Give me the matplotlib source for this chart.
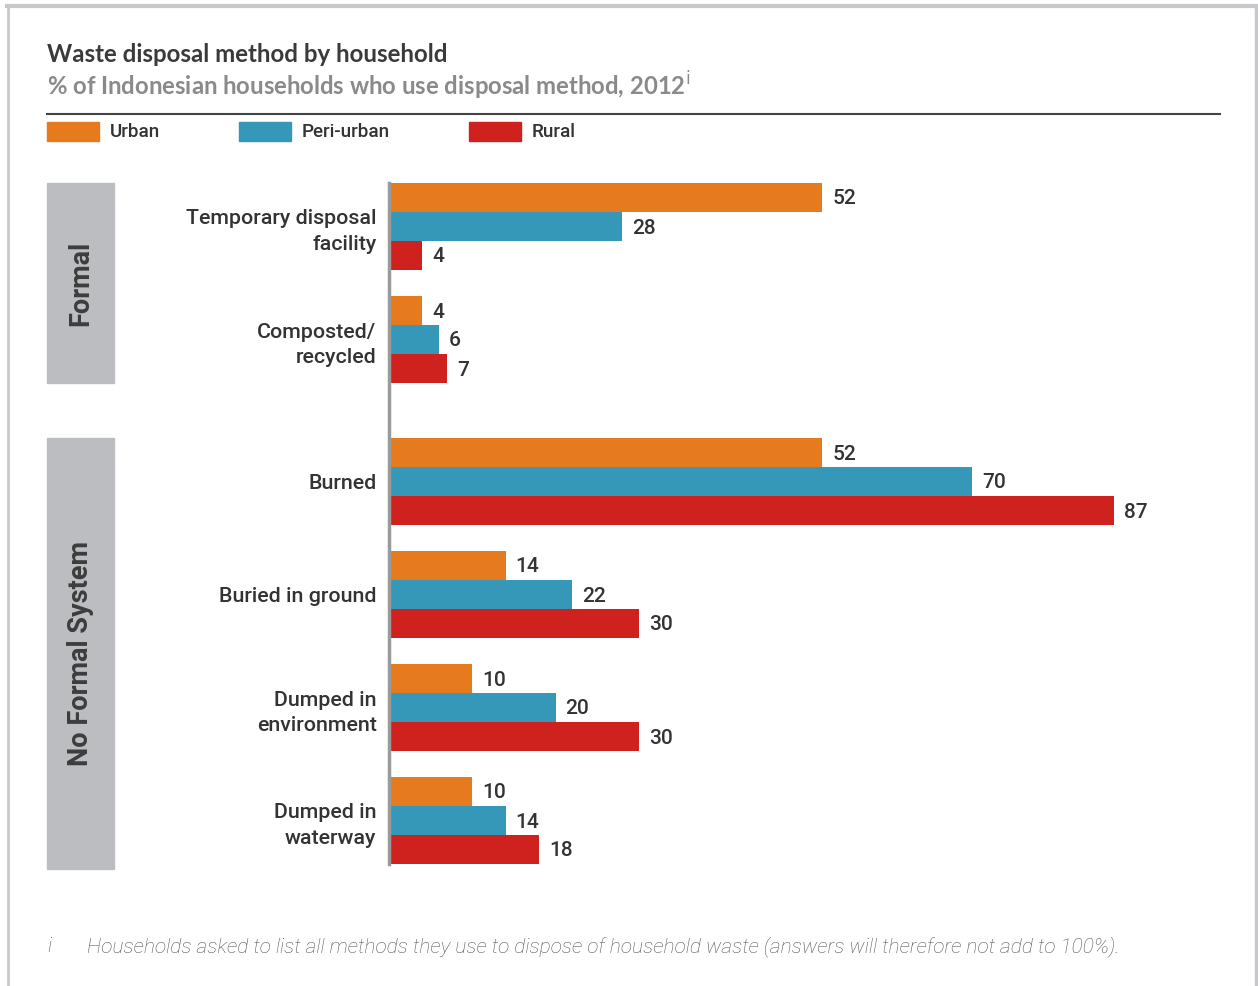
import matplotlib.pyplot as plt
from matplotlib.patches import Rectangle
from matplotlib.lines import Line2D

plt.rcParams['font.family'] = ['Roboto', 'DejaVu Sans']

categories = ['Temporary disposal\nfacility', 'Composted/\nrecycled', 'Burned',
              'Buried in ground', 'Dumped in\nenvironment', 'Dumped in\nwaterway']
series = ['Urban', 'Peri-urban', 'Rural']
urban = [52, 4, 52, 14, 10, 10]
peri_urban = [28, 6, 70, 22, 20, 14]
rural = [4, 7, 87, 30, 30, 18]
sections = ['Formal', 'No Formal System']
section_sizes = [2, 4]

colors = ['#e57b1e', '#3598b8', '#cf221f']
W, H = 1258, 986
fig = plt.figure(figsize=(W / 100, H / 100), dpi=100)

def fx(px):
    return px / W

def fy(py):
    return 1 - py / H

# axes placed in pixel terms
ax_l, ax_r, ax_t, ax_b = 389, 1222, 183, 864
ax = fig.add_axes([fx(ax_l), fy(ax_b), fx(ax_r - ax_l), fy(ax_t) - fy(ax_b)])

bar_h = 29
pitch = 113
gap = 29
values = [urban, peri_urban, rural]
starts = []
for i in range(len(categories)):
    extra = gap if i >= section_sizes[0] else 0
    starts.append(i * pitch + extra)

for k, (name, vals) in enumerate(zip(series, values)):
    ys = [s + k * bar_h for s in starts]
    ax.barh(ys, vals, height=bar_h, align='edge', color=colors[k], label=name)
    for y, v in zip(ys, vals):
        ax.text(v + 1.2, y + bar_h / 2 + 1.5, str(v), va='center', ha='left',
                fontsize=15, fontweight='medium', color='#333333')

ax.set_xlim(0, 100)
ax.set_ylim(ax_b - ax_t, 0)
for s in ['top', 'right', 'bottom']:
    ax.spines[s].set_visible(False)
ax.spines['left'].set_color('#9a9a9a')
ax.spines['left'].set_linewidth(2.5)
ax.set_xticks([])
ax.set_yticks([s + 1.5 * bar_h for s in starts])
ax.set_yticklabels(categories, fontsize=15.4, fontweight='medium', color='#333333',
                   linespacing=1.45)
ax.tick_params(axis='y', length=0, pad=9)

# section boxes
box_spans = [(183, 383), (438, 869)]
for name, (t, b) in zip(sections, box_spans):
    fig.patches.append(Rectangle((fx(47), fy(b)), fx(114 - 47), fy(t) - fy(b),
                                 transform=fig.transFigure, color='#bcbdc1'))
    fig.text(fx(81), (fy(t) + fy(b)) / 2, name, rotation=90, ha='center', va='center',
             fontsize=19.5, fontweight='bold', color='#3d3d3d')

# titles
fig.text(fx(47), fy(54), 'Waste disposal method by household', ha='left', va='center',
         fontsize=17.3, color='#3a3a3a', fontweight='bold', family=['Lato', 'DejaVu Sans'])
fig.text(fx(47), fy(86), '% of Indonesian households who use disposal method, 2012$^{\\mathrm{i}}$',
         ha='left', va='center', fontsize=17.2, color='#8a8a8a', fontweight='bold',
         family=['Lato', 'DejaVu Sans'])
fig.lines.append(Line2D([fx(47), fx(1220)], [fy(114), fy(114)], transform=fig.transFigure,
                        color='#444444', linewidth=1.5))

# legend
legend_x = [47, 239, 469]
for k, name in enumerate(series):
    x0 = legend_x[k]
    fig.patches.append(Rectangle((fx(x0), fy(141)), fx(52), fy(122) - fy(141),
                                 transform=fig.transFigure, color=colors[k]))
    fig.text(fx(x0 + 63), fy(132), name, ha='left', va='center', fontsize=13.6,
             color='#333333', fontweight='medium')

# footnote
fig.text(fx(47), fy(947), 'i', ha='left', va='center', fontsize=15, style='italic',
         fontweight='light', color='#555555')
fig.text(fx(87), fy(947), 'Households asked to list all methods they use to dispose of household '
         'waste (answers will therefore not add to 100%).', ha='left', va='center',
         fontsize=15, style='italic', fontweight='light', color='#555555')

# page frame
frame = '#c8c8cc'
fig.lines.append(Line2D([fx(7), fx(W)], [fy(6), fy(6)], transform=fig.transFigure,
                        color=frame, linewidth=3))
fig.lines.append(Line2D([fx(8), fx(8)], [fy(6), 0], transform=fig.transFigure,
                        color=frame, linewidth=2))
fig.lines.append(Line2D([fx(1256), fx(1256)], [fy(6), 0], transform=fig.transFigure,
                        color=frame, linewidth=2.5))

fig.savefig('out.png', dpi=100)
